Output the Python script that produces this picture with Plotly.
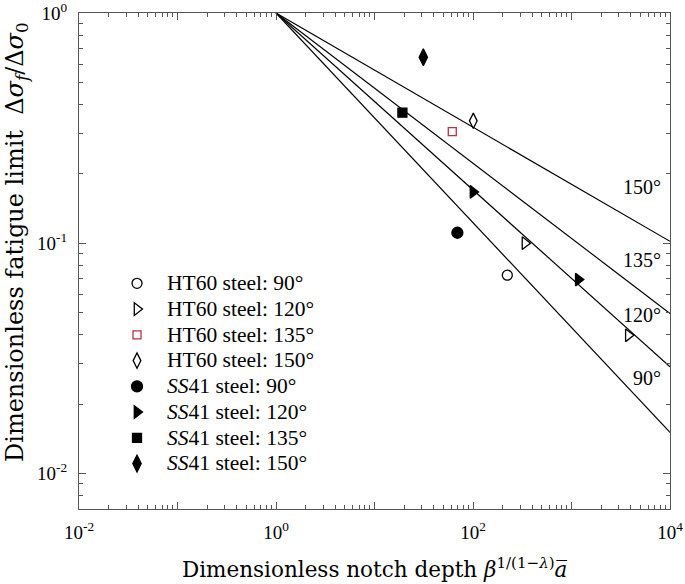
import numpy as np
import plotly.graph_objects as go

# ---- data ----
angle_labels = ["90°", "120°", "135°", "150°"]
exponents = [0.4555, 0.3843, 0.3264, 0.2480]   # slope of y = x^(-s)
line_x = [1.0, 1e4]
label_y = [0.0259, 0.0486, 0.0844, 0.175]

series_names = ["HT60 steel: 90°", "HT60 steel: 120°", "HT60 steel: 135°", "HT60 steel: 150°",
                "<i>SS</i>41 steel: 90°", "<i>SS</i>41 steel: 120°", "<i>SS</i>41 steel: 135°", "<i>SS</i>41 steel: 150°"]
series_x = [[223], [337, 3776], [61.6], [100.7],
            [69.4], [100, 1172], [19.2], [31.3]]
series_y = [[0.0726], [0.100, 0.0398], [0.305], [0.340],
            [0.111], [0.167, 0.0695], [0.369], [0.642]]
series_symbol = ["circle-open", "triangle-right-open", "square-open", "diamond-tall-open",
                 "circle", "triangle-right", "square", "diamond-tall"]
series_color = ["black", "black", "#b5323f", "black", "black", "black", "black", "black"]
series_size = [10, 11, 8, 11, 11, 11, 9, 12]

x_tickvals = [1e-2, 1e-1, 1, 1e1, 1e2, 1e3, 1e4]
x_ticktext = ["10<sup>-2</sup>", "", "10<sup>0</sup>", "", "10<sup>2</sup>", "", "10<sup>4</sup>"]
y_tickvals = [1e-2, 1e-1, 1]
y_ticktext = ["10<sup>-2</sup>", "10<sup>-1</sup>", "10<sup>0</sup>"]

SERIF = "Liberation Serif"
TITLE_FONT = "DejaVu Serif"

fig = go.Figure()

for s in exponents:
    ly = [xx ** (-s) for xx in line_x]
    fig.add_trace(go.Scatter(x=line_x, y=ly, mode="lines",
                             line=dict(color="black", width=1.2), showlegend=False,
                             hoverinfo="skip"))

for name, xs, ys, sym, col, sz in zip(series_names, series_x, series_y,
                                      series_symbol, series_color, series_size):
    fig.add_trace(go.Scatter(x=xs, y=ys, mode="markers",
                             name='<span style="font-size:21.5px">' + name + '</span>',
                             marker=dict(symbol=sym, color=col, size=sz,
                                         line=dict(color=col, width=1.3))))

for lab, yv in zip(angle_labels, label_y):
    fig.add_annotation(x=0.988, xref="paper", xanchor="right",
                       y=np.log10(yv), yref="y", yanchor="middle",
                       text=lab, showarrow=False,
                       font=dict(family=SERIF, size=20, color="black"))

# axis titles as annotations
fig.add_annotation(x=0.5, xref="paper", y=-0.118, yref="paper", yanchor="middle",
                   text="Dimensionless notch depth <i>β</i><sup>1/(1−<i>λ</i>)</sup><i>a̅</i>",
                   showarrow=False, font=dict(family=TITLE_FONT, size=21.5, color="black"))
fig.add_annotation(x=-0.106, xref="paper", xanchor="center", y=0.539, yref="paper",
                   yanchor="middle", textangle=-90,
                   text="Dimensionless fatigue limit  Δ<i>σ</i><sub><i>f</i></sub>/Δ<i>σ</i><sub>0</sub>",
                   showarrow=False, font=dict(family=TITLE_FONT, size=24, color="black"))

minor_x = [m * 10.0 ** d for d in range(-2, 4) for m in range(2, 10)]
minor_y = [m * 10.0 ** d for d in range(-3, 0) for m in range(2, 10)]

axis_common = dict(showline=True, linecolor="#555555", linewidth=1.3, mirror="allticks",
                   ticks="inside", ticklen=7, tickwidth=1, tickcolor="#555555",
                   showgrid=False, zeroline=False, automargin=False,
                   ticklabeloverflow="allow",
                   tickfont=dict(family=SERIF, size=19, color="black"))

fig.update_xaxes(type="log", range=[-2, 4.00001], tickmode="array", tickvals=x_tickvals,
                 ticktext=x_ticktext, ticklabelstandoff=6,
                 minor=dict(tickmode="array", tickvals=minor_x, ticks="inside", ticklen=4,
                            tickcolor="#555555", showgrid=False),
                 **axis_common)
fig.update_yaxes(type="log", range=[np.log10(0.007), 0.00001], tickmode="array",
                 tickvals=y_tickvals, ticktext=y_ticktext, ticklabelstandoff=7,
                 minor=dict(tickmode="array", tickvals=minor_y, ticks="inside", ticklen=4,
                            tickcolor="#555555", showgrid=False),
                 **axis_common)

fig.update_layout(width=685, height=584, plot_bgcolor="white", paper_bgcolor="white",
                  margin=dict(l=79, r=15, t=13, b=75),
                  showlegend=True,
                  legend=dict(x=0.0474, y=0.491, xanchor="left", yanchor="top",
                              bgcolor="rgba(0,0,0,0)", borderwidth=0, itemwidth=50,
                              font=dict(family=SERIF, size=17.5, color="black"),
                              tracegroupgap=0))

# remove the default page margin so the figure fills the window exactly
fig.write_html("out.html", config={"displayModeBar": False},
               post_script="document.body.style.margin='0';")
